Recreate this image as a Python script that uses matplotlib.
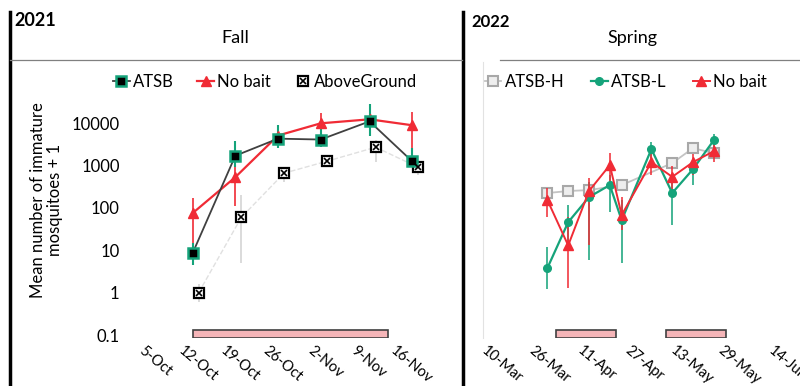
import datetime as dt
import matplotlib
matplotlib.use("Agg")
import matplotlib.pyplot as plt
import matplotlib.transforms as mtrans
from matplotlib.ticker import FixedLocator, FuncFormatter
from matplotlib.legend_handler import HandlerTuple

plt.rcParams['font.family'] = ['Lato', 'DejaVu Sans']

# ---- Fall 2021 data ----
fall_dates = ["2021-10-12", "2021-10-19", "2021-10-26", "2021-11-02", "2021-11-10", "2021-11-17"]
fall_above_dates = ["2021-10-13", "2021-10-20", "2021-10-27", "2021-11-03", "2021-11-11", "2021-11-18"]
fall_atsb = [8.5, 1700, 4300, 4100, 11000, 1250]
fall_atsb_lo = [4.4, 900, 2600, 2800, 5000, 950]
fall_atsb_hi = [15, 3800, 9000, 7500, 29000, 2600]
fall_nobait = [75, 530, 5100, 9900, 12300, 8900]
fall_nobait_lo = [9, 110, 3500, 3200, 6000, 2600]
fall_nobait_hi = [170, 1000, 9000, 17000, 22000, 18000]
fall_above = [1.0, 60, 660, 1260, 2700, 900]
fall_above_lo = [0.6, 5, 400, 900, 1200, 600]
fall_above_hi = [1.6, 200, 900, 1800, 4000, 1200]
fall_ticks = ["2021-10-05", "2021-10-12", "2021-10-19", "2021-10-26", "2021-11-02", "2021-11-09", "2021-11-16"]
fall_treat = [("2021-10-12", "2021-11-13")]

# ---- Spring 2022 data ----
spr_dates = ["2022-03-27", "2022-04-03", "2022-04-10", "2022-04-17", "2022-04-21",
             "2022-05-01", "2022-05-08", "2022-05-15", "2022-05-22"]
spr_h_dates = ["2022-03-27", "2022-04-03", "2022-04-10", "2022-04-21",
               "2022-05-08", "2022-05-15", "2022-05-22"]
spr_atsb_h = [224, 250, 263, 345, 1140, 2570, 1950]
spr_atsb_l = [3.8, 46, 180, 345, 51, 2440, 224, 820, 3960]
spr_atsb_l_lo = [1.2, 15, 6, 80, 5, 1500, 40, 350, 2500]
spr_atsb_l_hi = [12, 120, 400, 600, 150, 3600, 400, 1400, 5500]
spr_nobait = [153, 13, 250, 1020, 68, 1200, 540, 1200, 2180]
spr_nobait_lo = [60, 1.3, 13, 400, 30, 600, 250, 600, 1200]
spr_nobait_hi = [300, 60, 500, 2000, 180, 2200, 1000, 1900, 3200]
spr_ticks = ["2022-03-10", "2022-03-26", "2022-04-11", "2022-04-27", "2022-05-13", "2022-05-29", "2022-06-14"]
spr_treat = [("2022-03-30", "2022-04-19"), ("2022-05-06", "2022-05-26")]

yticks = [0.1, 1, 10, 100, 1000, 10000]

RED = "#f02b35"
GREEN = "#15a37a"
DARK = "#404040"
LGRAY = "#c4c4c4"
PINK = "#f5b5b8"


def d(s):
    return dt.datetime.strptime(s, "%Y-%m-%d")


def errs(vals, lo, hi):
    return [[v - l for v, l in zip(vals, lo)], [h - v for v, h in zip(vals, hi)]]


W, H = 800, 386
fig = plt.figure(figsize=(W / 100, H / 100), dpi=100)
shift = mtrans.ScaledTranslation(5 / 100, 0, fig.dpi_scale_trans)


def pax(x0, x1, y0, y1):
    # pixel box -> axes
    return fig.add_axes([x0 / W, 1 - y1 / H, (x1 - x0) / W, (y1 - y0) / H])


def style_xlabels(a):
    a.tick_params(axis="x", pad=4, labelsize=10.5)
    for t in a.get_xticklabels():
        t.set_rotation(-40)
        t.set_ha("center")
        t.set_va("top")
        t.set_transform(t.get_transform() + shift)


ymin, ymax = 0.085, 2.77e5

# ---------------- left panel ----------------
ax = pax(128, 455, 62, 338)
fd = [d(s) for s in fall_dates]
fa = [d(s) for s in fall_above_dates]

ax.errorbar(fa, fall_above, yerr=errs(fall_above, fall_above_lo, fall_above_hi),
            fmt="none", ecolor="#d4d4d4", elinewidth=1.2, zorder=2)
ax.plot(fa, fall_above, color="#e0e0e0", lw=1, ls="--", zorder=2)
ax.errorbar(fd, fall_nobait, yerr=errs(fall_nobait, fall_nobait_lo, fall_nobait_hi),
            fmt="none", ecolor=RED, elinewidth=1.2, zorder=3)
ax.errorbar(fd, fall_atsb, yerr=errs(fall_atsb, fall_atsb_lo, fall_atsb_hi),
            fmt="none", ecolor=GREEN, elinewidth=1.5, zorder=3)
l_atsb, = ax.plot(fd, fall_atsb, color=DARK, lw=1.3, marker="s", ms=6.5,
                  mfc="black", mec=GREEN, mew=1.8, zorder=5)
l_nob, = ax.plot(fd, fall_nobait, color=RED, lw=1.6, marker="^", ms=6.5,
                 mfc=RED, mec=RED, zorder=4)
m_box, = ax.plot(fa, fall_above, ls="none", marker="s", ms=7, mfc="white",
                 mec="black", mew=1.6, zorder=4)
m_x, = ax.plot(fa, fall_above, ls="none", marker="x", ms=4.5, mec="black",
               mew=1.2, zorder=5)

for s, e in fall_treat:
    ax.bar(d(s), 0.13 - ymin, width=(d(e) - d(s)).days, bottom=ymin, align="edge",
           color=PINK, edgecolor=DARK, lw=1.2, zorder=1)

ax.set_yscale("log")
ax.set_ylim(ymin, ymax)
ax.yaxis.set_major_locator(FixedLocator(yticks))
ax.yaxis.set_minor_locator(FixedLocator([]))
ax.yaxis.set_major_formatter(FuncFormatter(lambda v, p: "%g" % v))
ax.set_xlim(dt.datetime(2021, 10, 1, 10), dt.datetime(2021, 11, 24))
ax.set_xticks([d(s) for s in fall_ticks])
ax.set_xticklabels([d(s).strftime("%-d-%b") for s in fall_ticks])
ax.tick_params(axis="both", length=0, labelsize=12, pad=6)
style_xlabels(ax)
for sp in ax.spines.values():
    sp.set_visible(False)
ax.set_ylabel("Mean number of immature\nmosquitoes + 1", fontsize=12, labelpad=6,
              linespacing=1.1)
ax.legend([l_atsb, l_nob, (m_box, m_x)], ["ATSB", "No bait", "AboveGround"],
          handler_map={tuple: HandlerTuple(ndivide=1)},
          loc="center", bbox_to_anchor=(0.42, 0.928), ncol=3, frameon=False,
          fontsize=12, handlelength=1.0, handletextpad=0.2, columnspacing=1.4)

# ---------------- right panel ----------------
ax2 = pax(483, 800, 62, 338)
sd = [d(s) for s in spr_dates]
sh = [d(s) for s in spr_h_dates]

ax2.errorbar(sd, spr_atsb_l, yerr=errs(spr_atsb_l, spr_atsb_l_lo, spr_atsb_l_hi),
             fmt="none", ecolor=GREEN, elinewidth=1.4, alpha=0.8, zorder=3)
ax2.errorbar(sd, spr_nobait, yerr=errs(spr_nobait, spr_nobait_lo, spr_nobait_hi),
             fmt="none", ecolor=RED, elinewidth=1.4, alpha=0.8, zorder=3)
l_h, = ax2.plot(sh, spr_atsb_h, color=LGRAY, lw=1.3, marker="s", ms=6.5,
                mfc="#eeeeee", mec="#a8a8a8", mew=1.5, zorder=2)
l_l, = ax2.plot(sd, spr_atsb_l, color=GREEN, lw=1.6, marker="o", ms=5.5,
                mfc=GREEN, mec=GREEN, zorder=4)
l_r, = ax2.plot(sd, spr_nobait, color=RED, lw=1.4, marker="^", ms=6.5,
                mfc=RED, mec=RED, zorder=5)

for s, e in spr_treat:
    ax2.bar(d(s), 0.13 - ymin, width=(d(e) - d(s)).days, bottom=ymin, align="edge",
            color=PINK, edgecolor=DARK, lw=1.2, zorder=1)

ax2.set_yscale("log")
ax2.set_ylim(ymin, ymax)
ax2.yaxis.set_major_locator(FixedLocator(yticks))
ax2.yaxis.set_minor_locator(FixedLocator([]))
ax2.set_yticklabels([])
ax2.set_xlim(dt.datetime(2022, 3, 5, 8), dt.datetime(2022, 6, 20))
ax2.set_xticks([d(s) for s in spr_ticks])
ax2.set_xticklabels([d(s).strftime("%-d-%b") for s in spr_ticks])
ax2.tick_params(axis="both", length=0, labelsize=12)
style_xlabels(ax2)
for sp in ax2.spines.values():
    sp.set_visible(False)
ax2.spines["left"].set_visible(True)
ax2.spines["left"].set_color("#e2e2e2")
ax2.legend([l_h, l_l, l_r], ["ATSB-H", "ATSB-L", "No bait"],
           loc="center", bbox_to_anchor=(0.45, 0.928), ncol=3, frameon=False,
           fontsize=12, handlelength=1.0, handletextpad=0.2, columnspacing=1.6)

# ---------------- panel frames / headers ----------------
fig.add_artist(plt.Line2D([10 / W, 10 / W], [0, 1 - 12 / H], color="black", lw=2.5))
fig.add_artist(plt.Line2D([463 / W, 463 / W], [0, 1 - 12 / H], color="black", lw=2.5))
fig.add_artist(plt.Line2D([10 / W, 462 / W], [1 - 60 / H, 1 - 60 / H], color="#808080", lw=0.9))
fig.add_artist(plt.Line2D([500 / W, 1], [1 - 60 / H, 1 - 60 / H], color="#808080", lw=0.9))
fig.text(14 / W, 1 - 20 / H, "2021", fontsize=13, fontweight="bold", va="center", ha="left")
fig.text(471 / W, 1 - 22 / H, "2022", fontsize=12, fontweight="bold", va="center", ha="left")
fig.text(235 / W, 1 - 38 / H, "Fall", fontsize=13, va="center", ha="center")
fig.text(632 / W, 1 - 38 / H, "Spring", fontsize=13, va="center", ha="center")

fig.savefig("out.png", dpi=100)
